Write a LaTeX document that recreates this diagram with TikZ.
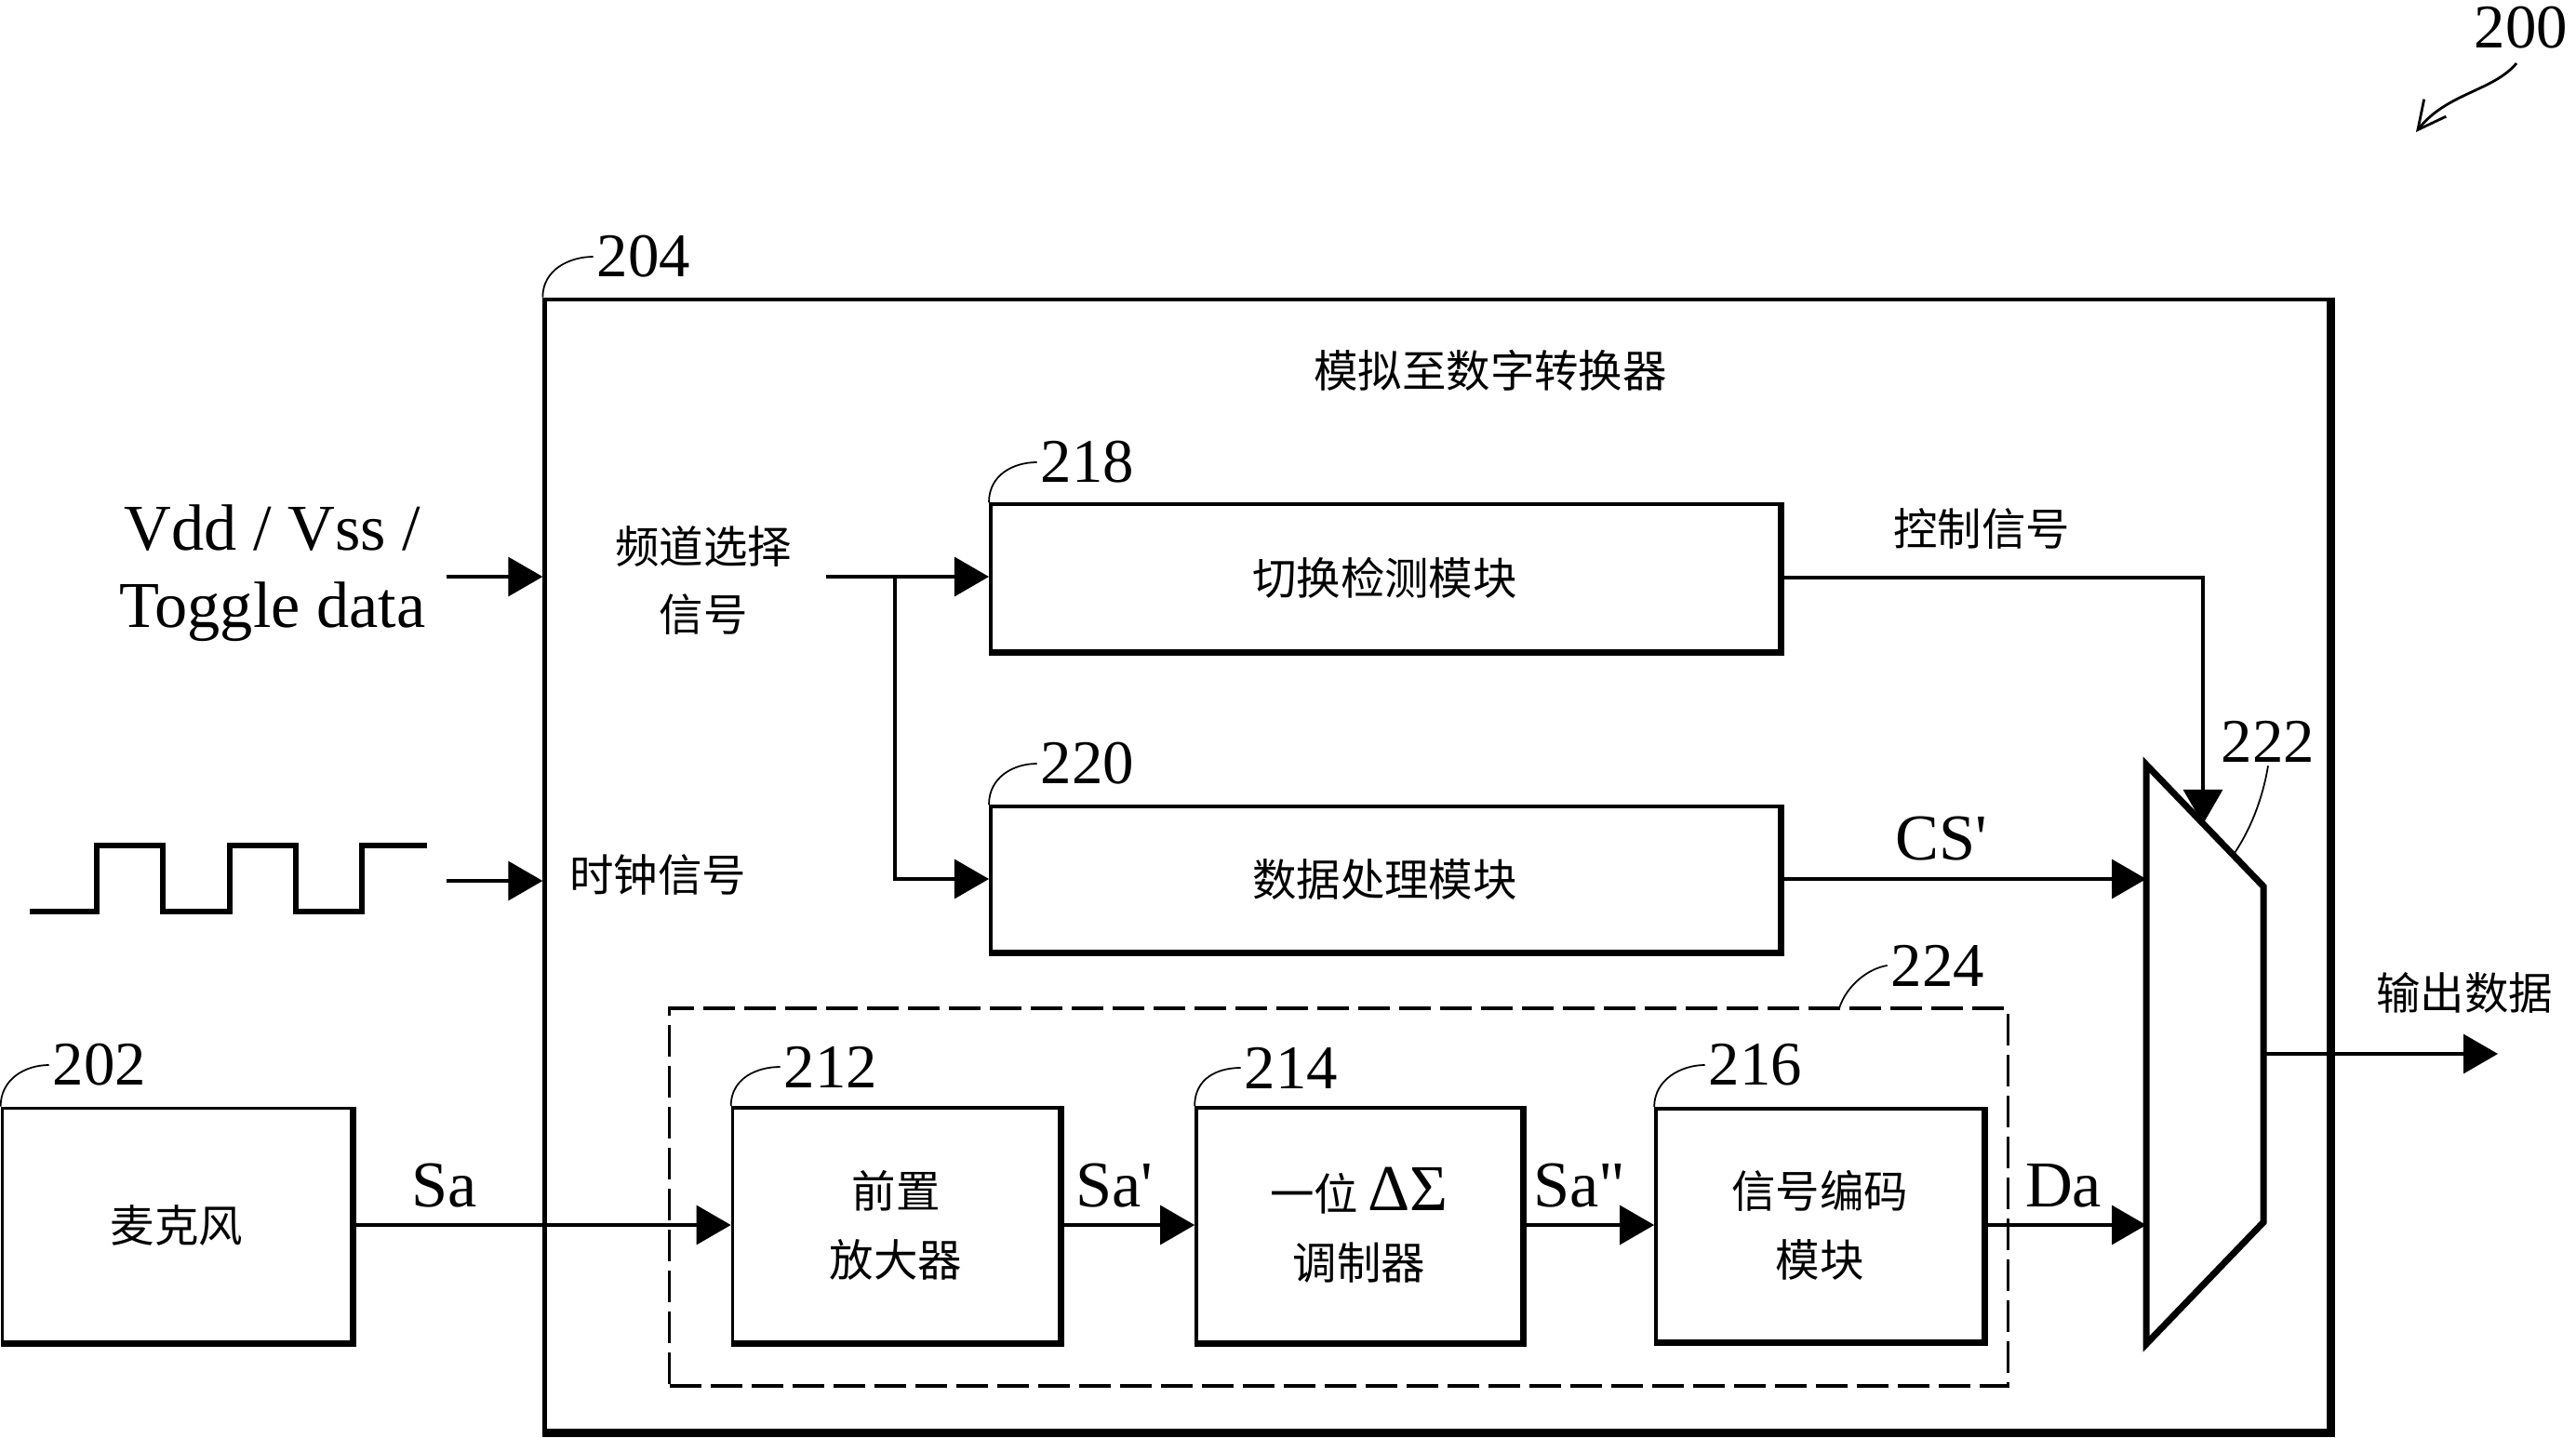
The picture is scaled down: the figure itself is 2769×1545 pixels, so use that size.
\documentclass[tikz,border=0pt]{standalone}
\usepackage{fontspec}
\setmainfont{Liberation Serif}
\newfontfamily\cjk{Noto Sans CJK SC}
\usetikzlibrary{arrows.meta}

\tikzset{
  cjk/.style={font=\cjk\fontsize{13.5}{21}\selectfont, align=center},
  lat/.style={font=\fontsize{20}{23.6}\selectfont, align=center},
  ref/.style={font=\fontsize{19}{23}\selectfont, inner sep=1pt},
  blk/.style={draw, line width=1pt, cjk},
  wire/.style={line width=0.9pt},
  sig/.style={wire, -{Triangle[length=0.37cm,width=0.42cm]}},
  lead/.style={line width=0.5pt},
}

\begin{document}
\begin{tikzpicture}[x=0.01cm, y=-0.01cm]
  \useasboundingbox (0,0) rectangle (2769,1545);

  \node[draw, line width=1.2pt, minimum width=19.17cm, minimum height=12.16cm] (adc) at (1544.5,930) {};
  \node[cjk] (title) at (1602,398) {模拟至数字转换器};
  \node[draw, dash pattern=on 0.34cm off 0.1cm, line width=1pt, minimum width=14.38cm, minimum height=4.06cm] (grp) at (1439,1287) {};

  \node[blk, minimum width=3.75cm, minimum height=2.51cm] (mic) at (190,1317) {麦克风};
  \node[blk, minimum width=3.51cm, minimum height=2.52cm] (amp) at (963,1317) {前置\\放大器};
  \node[blk, minimum width=3.50cm, minimum height=2.52cm] (dsm) at (1461,1317) {一位 {\rmfamily\fontsize{20}{21}\selectfont ΔΣ}\\调制器};
  \node[blk, minimum width=3.52cm, minimum height=2.50cm] (enc) at (1956,1317) {信号编码\\模块};
  \node[blk, minimum width=8.47cm, minimum height=1.58cm] (sw) at (1488.5,621) {切换检测模块};
  \node[blk, minimum width=8.47cm, minimum height=1.56cm] (dp) at (1488.5,945) {数据处理模块};

  \foreach \b in {mic,amp,dsm,enc,sw,dp}
    \draw[line width=2pt] (\b.north east) -- (\b.south east) -- (\b.south west);
  \draw[line width=2.3pt] (adc.north east) -- (adc.south east) -- (adc.south west);

  \coordinate (mux-a) at (2307,822);
  \coordinate (mux-b) at (2433,953);
  \coordinate (mux-c) at (2433,1314);
  \coordinate (mux-d) at (2307,1445);
  \draw[line width=2pt] (mux-a) -- (mux-b) -- (mux-c) -- (mux-d) -- cycle;
  \coordinate (mux-ctl) at (2368,886);
  \coordinate (mux-out) at (2433,1133);
  \coordinate (out) at (2685,1133);

  \node[lat] (pwr) at (293,616) {Vdd / Vss /\\Toggle data};
  \coordinate (pin) at (480,620);
  \draw[sig] (pin) -- (pin -| adc.west);

  \draw[line width=1.8pt] (32,980) foreach \x in {104,247} {-- (\x,980) -- (\x,909) -- (\x+71,909) -- (\x+71,980)} -- (389,980) -- (389,909) -- (459,909);
  \coordinate (clkin) at (480,947);
  \draw[sig] (clkin) -- (clkin -| adc.west);

  \node[cjk] (chsel) at (756,624) {频道选择\\信号};
  \node[cjk] (clk) at (707,941) {时钟信号};
  \coordinate (chs) at (888,620);
  \coordinate (br) at (962,620);
  \draw[sig] (chs) -- (chs -| sw.west);
  \draw[sig] (br) |- (dp.west);

  \node[cjk] (ctl) at (2130,568) {控制信号};
  \draw[sig] (sw.east) -| (mux-ctl);
  \node[lat] (cs) at (2087,902) {CS\textquotesingle};
  \draw[sig] (dp.east) -- (dp.east -| mux-a);

  \draw[sig] (mic.east) -- (amp.west);
  \draw[sig] (amp.east) -- (dsm.west);
  \draw[sig] (dsm.east) -- (enc.west);
  \draw[sig] (enc.east) -- (enc.east -| mux-a);
  \node[lat] (sa) at (478,1275) {Sa};
  \node[lat] (sa1) at (1198,1275) {Sa\textquotesingle};
  \node[lat] (sa2) at (1698,1275) {Sa\textquotedbl};
  \node[lat] (da) at (2218,1275) {Da};

  \draw[sig] (mux-out) -- (out);
  \node[cjk] (dout) at (2649,1067) {输出数据};

  \node[ref] (r202) at (107,1145) {202};
  \node[ref] (r204) at (692,276) {204};
  \node[ref] (r212) at (893,1147) {212};
  \node[ref] (r214) at (1388,1148) {214};
  \node[ref] (r216) at (1887,1145) {216};
  \node[ref] (r218) at (1169,497) {218};
  \node[ref] (r220) at (1169,821) {220};
  \node[ref] (r222) at (2438,797) {222};
  \node[ref] (r224) at (2083,1038) {224};
  \node[ref] (r200) at (2710,30) {200};

  \foreach \b/\r in {mic/r202, adc/r204, amp/r212, dsm/r214, enc/r216, sw/r218, dp/r220}
    \draw[lead] (\b.north west) .. controls +(0,-30) and +(-25,0) .. (\r.west);
  \coordinate (g224) at (1977,1084);
  \draw[lead] (g224) .. controls +(8,-25) and +(-20,3) .. (r224.west);
  \coordinate (m222) at (2402,917);
  \draw[lead] (m222) .. controls +(20,-30) and +(-5,30) .. (r222.south);
  \coordinate (a200) at (2705,68);
  \coordinate (t200) at (2597,142);
  \draw[line width=0.8pt, -{Straight Barb[length=0.3cm,width=0.3cm]}] (a200) .. controls (2680,98) and (2630,100) .. (t200);
\end{tikzpicture}
\end{document}
